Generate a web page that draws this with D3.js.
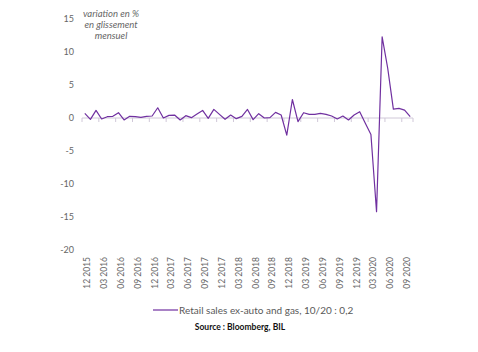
<!DOCTYPE html>
<html>
<head>
<meta charset="utf-8">
<script src="https://cdn.jsdelivr.net/npm/d3@7"></script>
<style>
  body { margin: 0; background: #fff; }
  text { font-family: Lato, "Open Sans", sans-serif; }
</style>
</head>
<body>
<div id="chart"></div>
<script>
// monthly data, 12 2015 -> 10 2020
const startYear = 2015, startMonth = 12;
const values = [
  0.7, -0.2, 1.15, -0.15, 0.2, 0.25, 0.8, -0.3, 0.25, 0.2,
  0.1, 0.25, 0.3, 1.55, 0.0, 0.4, 0.45, -0.3, 0.35, 0.05,
  0.6, 1.15, -0.05, 1.3, 0.55, -0.2, 0.45, -0.1, 0.25, 1.3,
  -0.25, 0.65, 0.0, 0.05, 0.85, 0.45, -2.6, 2.8, -0.55, 0.8,
  0.55, 0.55, 0.7, 0.55, 0.3, -0.15, 0.3, -0.3, 0.45, 0.95,
  -0.8, -2.5, -14.2, 12.3, 7.5, 1.35, 1.45, 1.2, 0.2
];
const yTicks = [15, 10, 5, 0, -5, -10, -15, -20];
const titleLines = ["variation en %", "en glissement", "mensuel"];
const legendLabel = "Retail sales ex-auto and gas, 10/20 : 0,2";
const sourceLabel = "Source : Bloomberg, BIL";

const months = values.map((v, i) => {
  const m = (startMonth - 1 + i) % 12 + 1;
  const y = startYear + Math.floor((startMonth - 1 + i) / 12);
  return String(m).padStart(2, "0") + " " + y;
});
const data = values.map((v, i) => ({ month: months[i], value: v }));

const width = 478, height = 352;
const svg = d3.select("#chart").append("svg")
    .attr("width", width)
    .attr("height", height);

const x = d3.scaleBand()
    .domain(months)
    .range([82, 413]);

const y = d3.scaleLinear()
    .domain([-20, 15])
    .range([250, 19]);

// y labels (no axis line)
svg.append("g").selectAll("text")
  .data(yTicks)
  .enter().append("text")
    .attr("x", 74)
    .attr("y", d => y(d))
    .attr("dy", "0.35em")
    .attr("text-anchor", "end")
    .style("font-size", "9px")
    .style("fill", "#666")
    .text(d => d);

// axis title
svg.append("g").selectAll("text")
  .data(titleLines)
  .enter().append("text")
    .attr("x", 111)
    .attr("y", (d, i) => 17 + i * 11)
    .attr("text-anchor", "middle")
    .style("font-size", "9.5px")
    .style("font-style", "italic")
    .style("fill", "#666")
    .text(d => d);

// x axis at zero
const axisColor = "#d0c8d8";
svg.append("line")
    .attr("x1", x.range()[0]).attr("x2", x.range()[1])
    .attr("y1", y(0)).attr("y2", y(0))
    .style("stroke", axisColor)
    .style("stroke-width", 1);

const tickMonths = months.filter((m, i) => i % 3 === 0);
svg.append("g").selectAll("line")
  .data(tickMonths.concat([null]))
  .enter().append("line")
    .attr("x1", d => d ? x(d) : x.range()[1])
    .attr("x2", d => d ? x(d) : x.range()[1])
    .attr("y1", y(0))
    .attr("y2", y(0) + 4)
    .style("stroke", axisColor)
    .style("stroke-width", 1);

// x labels, rotated, at bottom
svg.append("g").selectAll("text")
  .data(tickMonths)
  .enter().append("text")
    .attr("transform", d => "translate(" + (x(d) + x.bandwidth() / 2 + 2.5) + ",257) rotate(-90)")
    .attr("dy", "0.35em")
    .attr("text-anchor", "end")
    .style("font-size", "8.5px")
    .style("fill", "#666")
    .text(d => d);

// series line
const line = d3.line()
    .x(d => x(d.month) + x.bandwidth() / 2)
    .y(d => y(d.value));

svg.append("path")
    .datum(data)
    .attr("d", line)
    .style("fill", "none")
    .style("stroke", "#7030a0")
    .style("stroke-width", 1.2)
    .style("stroke-linejoin", "round");

// legend
svg.append("line")
    .attr("x1", 153).attr("x2", 178)
    .attr("y1", 310).attr("y2", 310)
    .style("stroke", "#7030a0")
    .style("stroke-width", 1.2);

svg.append("text")
    .attr("x", 179)
    .attr("y", 310)
    .attr("dy", "0.35em")
    .style("font-size", "10px")
    .style("fill", "#595959")
    .text(legendLabel);

svg.append("text")
    .attr("x", 240)
    .attr("y", 330)
    .attr("text-anchor", "middle")
    .style("font-size", "8.5px")
    .style("font-weight", "bold")
    .style("fill", "#111")
    .text(sourceLabel);
</script>
</body>
</html>
